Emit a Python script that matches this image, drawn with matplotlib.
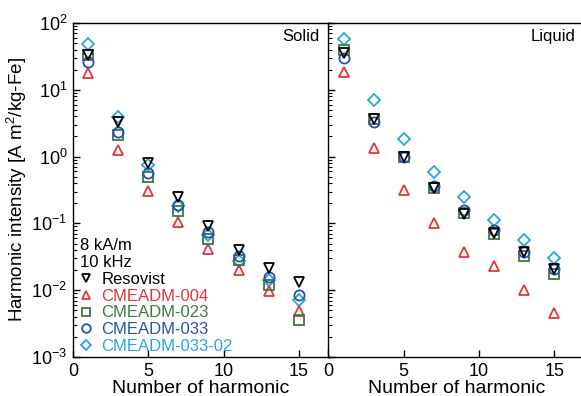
import matplotlib
matplotlib.use("Agg")
import matplotlib.pyplot as plt
from matplotlib.ticker import LogLocator, NullFormatter, FixedLocator

plt.rcParams['font.family'] = ['Liberation Sans', 'DejaVu Sans']
plt.rcParams['mathtext.fontset'] = 'custom'
plt.rcParams['mathtext.rm'] = 'Liberation Sans'
plt.rcParams['mathtext.it'] = 'Liberation Sans:italic'

harmonics = [1, 3, 5, 7, 9, 11, 13, 15]

names = ["Resovist", "CMEADM-004", "CMEADM-023", "CMEADM-033", "CMEADM-033-02"]
colors = ["black", "#e0363b", "#3b7a40", "#2a4fae", "#2aa4de"]
markers = ["v", "^", "s", "o", "D"]

# solid samples
solid_resovist = [33, 3.3, 0.79, 0.245, 0.090, 0.040, 0.0213, 0.0132]
solid_004 = [18, 1.25, 0.31, 0.105, 0.042, 0.020, 0.0098, 0.0049]
solid_023 = [33, 2.14, 0.49, 0.155, 0.059, 0.028, 0.0118, 0.0036]
solid_033 = [26, 2.35, 0.56, 0.186, 0.074, 0.033, 0.016, 0.0085]
solid_03302 = [48, 3.9, 0.75, 0.18, 0.066, 0.027, 0.014, 0.0071]

# liquid samples
liquid_resovist = [35, 3.7, 0.97, 0.34, 0.140, 0.072, 0.037, 0.0205]
liquid_004 = [18.6, 1.35, 0.32, 0.102, 0.037, 0.023, 0.0102, 0.0045]
liquid_023 = [40, 3.7, 0.99, 0.34, 0.145, 0.070, 0.033, 0.0177]
liquid_033 = [29.5, 3.3, 0.97, 0.36, 0.158, 0.079, 0.037, 0.021]
liquid_03302 = [57, 7.0, 1.86, 0.59, 0.245, 0.111, 0.057, 0.030]

solid = [solid_resovist, solid_004, solid_023, solid_033, solid_03302]
liquid = [liquid_resovist, liquid_004, liquid_023, liquid_033, liquid_03302]

fig = plt.figure(figsize=(5.81, 3.96), dpi=100)
ax1 = fig.add_axes([0.1256, 0.0985, 0.4406, 0.8434])
ax2 = fig.add_axes([0.5654, 0.0985, 0.4406, 0.8434])

# draw order: resovist on top
zorders = [6, 3, 4, 5, 2]

for ax, data, tag in [(ax1, solid, "Solid"), (ax2, liquid, "Liquid")]:
    for vals, name, c, m, z in zip(data, names, colors, markers, zorders):
        ms = 6.2 if m == "D" else 7.3
        ax.plot(harmonics, vals, linestyle="none", marker=m, ms=ms,
                mfc="none", mec=c, mew=1.3, label=name, zorder=z)
    ax.set_yscale("log")
    ax.set_ylim(1e-3, 1e2)
    ax.set_xlim(0, 17)
    ax.xaxis.set_major_locator(FixedLocator([0, 5, 10, 15]))
    ax.yaxis.set_major_locator(LogLocator(base=10, numticks=10))
    ax.yaxis.set_minor_locator(LogLocator(base=10, subs=range(2, 10), numticks=10))
    ax.yaxis.set_minor_formatter(NullFormatter())
    ax.tick_params(which="both", direction="in", labelsize=13, pad=4)
    ax.tick_params(which="major", length=5, width=1)
    ax.tick_params(which="minor", length=3, width=0.8)
    ax.tick_params(axis="x", which="minor", bottom=False)
    for s in ax.spines.values():
        s.set_linewidth(1.0)
    ax.set_xlabel("Number of harmonic", fontsize=14, labelpad=0)
    ax.text(16.4, 62, tag, ha="right", va="center", fontsize=12)

ax2.tick_params(axis="y", labelleft=False)
ax2.spines["right"].set_visible(False)
ax1.set_ylabel("Harmonic intensity [A m$^2$/kg-Fe]", fontsize=13.5, labelpad=2)

leg = ax1.legend(loc="lower left", bbox_to_anchor=(-0.02, -0.025),
                 title="8 kA/m\n10 kHz", alignment="left", frameon=False,
                 fontsize=12, title_fontsize=12, handlelength=0.8,
                 handletextpad=0.5, labelspacing=0.1, borderpad=0.2,
                 markerscale=0.85)
for t, c in zip(leg.get_texts(), colors):
    t.set_color(c)

fig.savefig("out.png", dpi=100)
